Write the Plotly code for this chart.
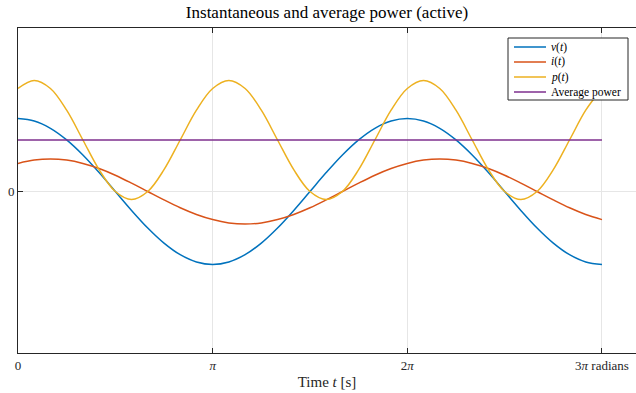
import math
import plotly.graph_objects as go

# sample times: k*pi/12, k = 0..36  (0 .. 3pi)
t = [k * math.pi / 12 for k in range(37)]

v_vals = [7.30, 7.05, 6.32, 5.16, 3.65, 1.89, 0.00, -1.89, -3.65, -5.16, -6.32, -7.05,
          -7.30, -7.05, -6.32, -5.16, -3.65, -1.89, 0.00, 1.89, 3.65, 5.16, 6.32, 7.05,
          7.30, 7.05, 6.32, 5.16, 3.65, 1.89, 0.00, -1.89, -3.65, -5.16, -6.32, -7.05, -7.30]

i_vals = [2.81, 3.14, 3.25, 3.14, 2.81, 2.30, 1.63, 0.84, 0.00, -0.84, -1.63, -2.30,
          -2.81, -3.14, -3.25, -3.14, -2.81, -2.30, -1.63, -0.84, 0.00, 0.84, 1.63, 2.30,
          2.81, 3.14, 3.25, 3.14, 2.81, 2.30, 1.63, 0.84, 0.00, -0.84, -1.63, -2.30, -2.81]

p_vals = [10.30, 11.10, 10.30, 8.13, 5.15, 2.18, 0.00, -0.80, 0.00, 2.18, 5.15, 8.13,
          10.30, 11.10, 10.30, 8.13, 5.15, 2.18, 0.00, -0.80, 0.00, 2.18, 5.15, 8.13,
          10.30, 11.10, 10.30, 8.13, 5.15, 2.18, 0.00, -0.80, 0.00, 2.18, 5.15, 8.13, 10.30]

avg_t = [0, 3 * math.pi]
avg_vals = [5.15, 5.15]

tick_vals = [0, math.pi, 2 * math.pi, 3 * math.pi]
tick_text = ["0", "<i>π</i>", "2<i>π</i>", "3<i>π</i> radians"]

names = ["<i>v</i>(<i>t</i>)", "<i>i</i>(<i>t</i>)", "<i>p</i>(<i>t</i>)", "Average power"]
colors = ["#0072BD", "#D95319", "#EDB120", "#7E2F8E"]

SERIF = "Liberation Serif, DejaVu Serif, serif"

W, H = 636, 393
ML, MR, MT, MB = 18, 0, 28, 40
PW, PH = W - ML - MR, H - MT - MB


def px(xp):
    return (xp - ML) / PW


def py(yp):
    return 1 - (yp - MT) / PH


fig = go.Figure()
for xs, ys, nm, c in [(t, v_vals, names[0], colors[0]),
                      (t, i_vals, names[1], colors[1]),
                      (t, p_vals, names[2], colors[2]),
                      (avg_t, avg_vals, names[3], colors[3])]:
    fig.add_trace(go.Scatter(x=xs, y=ys, mode="lines", name=nm, showlegend=False,
                             line=dict(color=c, width=1.5, shape="spline", smoothing=1.0)))

# custom compact legend (MATLAB style box)
shapes = [dict(type="rect", xref="paper", yref="paper",
               x0=px(508), x1=px(628), y0=py(100), y1=py(38),
               line=dict(color="#262626", width=1), fillcolor="white", layer="above")]
annotations = []
for k, (nm, c) in enumerate(zip(names, colors)):
    yy = 47 + 15 * k
    shapes.append(dict(type="line", xref="paper", yref="paper",
                       x0=px(514), x1=px(546), y0=py(yy), y1=py(yy),
                       line=dict(color=c, width=1.5), layer="above"))
    annotations.append(dict(xref="paper", yref="paper", x=px(549), y=py(yy),
                            xanchor="left", yanchor="middle", text=nm, showarrow=False,
                            font=dict(family=SERIF, size=11.5, color="#000000")))

fig.update_layout(
    width=W, height=H,
    margin=dict(l=ML, r=MR, t=MT, b=MB),
    paper_bgcolor="white", plot_bgcolor="white",
    font=dict(family=SERIF, size=13, color="#262626"),
    title=dict(text="Instantaneous and average power (active)", x=0.5, xref="paper",
               xanchor="center", y=0.985, yanchor="top",
               font=dict(family=SERIF, size=17, color="#000000")),
    showlegend=False,
    shapes=shapes,
    annotations=annotations,
)
fig.update_xaxes(range=[0, 9.974], tickvals=tick_vals, ticktext=tick_text,
                 showgrid=True, gridcolor="#e6e6e6", gridwidth=1,
                 showline=True, linecolor="#262626", linewidth=1, mirror="ticks",
                 ticks="inside", ticklen=5, tickcolor="#262626",
                 zeroline=False,
                 title=dict(text="Time <i>t</i> [s]", standoff=4,
                            font=dict(family=SERIF, size=15, color="#262626")))
fig.update_yaxes(range=[-16.15, 16.35], tickvals=[0], ticktext=["0"],
                 showgrid=True, gridcolor="#e6e6e6", gridwidth=1,
                 showline=True, linecolor="#262626", linewidth=1, mirror=False,
                 ticks="inside", ticklen=5, tickcolor="#262626",
                 zeroline=False)

fig.write_html("out.html")
